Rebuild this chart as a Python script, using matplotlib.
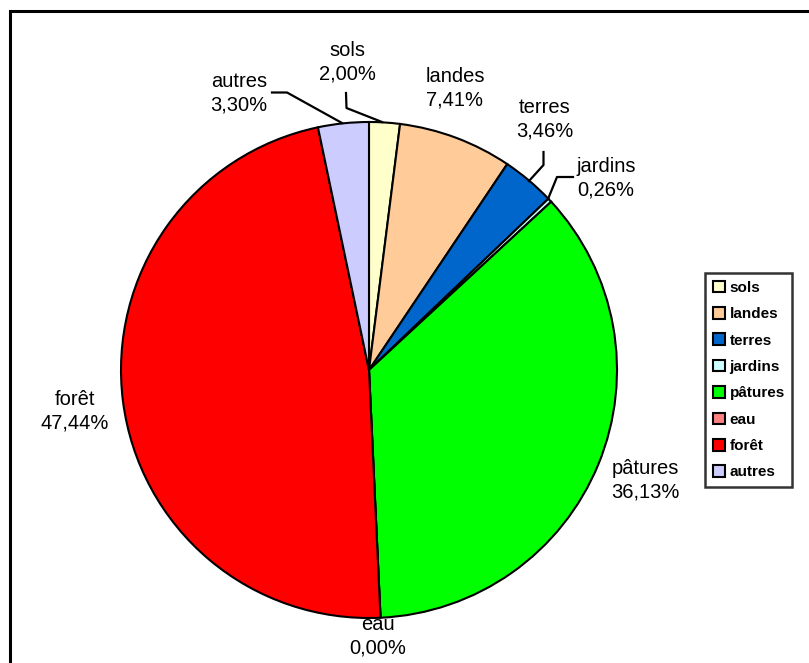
import numpy as np
import matplotlib.pyplot as plt
from matplotlib.patches import Patch, Rectangle

plt.rcParams['font.family'] = ['Liberation Sans', 'DejaVu Sans']

# donnees
categories = ["sols", "landes", "terres", "jardins", "pâtures", "eau", "forêt", "autres"]
values = [2.00, 7.41, 3.46, 0.26, 36.13, 0.00, 47.44, 3.30]
colors = ["#FFFFCC", "#FFCC99", "#0066CC", "#CCFFFF", "#00FF00", "#FF8080", "#FF0000", "#CCCCFF"]

W, H = 809, 663
# label centers in pixel coords (x, y from top)
label_pos = [(347, 62), (455, 88), (545, 119), (606, 178),
             (645, 480), (378, 636), (75, 411), (239, 93)]
# leader lines (pixel coords)
leaders = {
    "sols": [(346, 93), (346.5, 108), (382, 122)],
    "autres": [(272, 92.5), (287, 92.5), (342, 123)],
    "terres": [(543.5, 152), (543.5, 165), (529, 181)],
    "jardins": [(573, 177), (557, 177), (548, 199)],
}

fig = plt.figure(figsize=(W / 100, H / 100), dpi=100)
ax = fig.add_axes([0, 0, 1, 1])

def py(y):
    return H - y

# frame of the chart area (cut at right/bottom)
ax.add_patch(Rectangle((10, py(700)), 850, 700 - 11, fill=False, lw=2.2,
                       edgecolor='black', zorder=0))

wedges, _ = ax.pie(values, colors=colors, startangle=90, counterclock=False,
                   center=(369, py(370)), radius=248, frame=True,
                   wedgeprops=dict(edgecolor='black', linewidth=1.5))
for w in wedges:
    w.set_zorder(3)
ax.set_xlim(0, W)
ax.set_ylim(0, H)
ax.set_aspect('equal')
ax.axis('off')

for name, v, (x, y) in zip(categories, values, label_pos):
    txt = f"{name}\n{v:.2f}%".replace('.', ',')
    ax.text(x, py(y), txt, ha='center', va='center', fontsize=14.5,
            linespacing=1.3, color='black', zorder=2)

for name, pts in leaders.items():
    xs = [p[0] for p in pts]
    ys = [py(p[1]) for p in pts]
    ax.plot(xs, ys, color='black', lw=1.6, zorder=4)

handles = [Patch(facecolor=c, edgecolor='black', linewidth=1.5) for c in colors]
leg = fig.legend(handles, categories, loc='upper left',
                 bbox_to_anchor=(705 / W, 1 - 273 / H), borderaxespad=0,
                 prop={'weight': 'bold', 'size': 11}, frameon=True,
                 fancybox=False, shadow=False, handlelength=0.8,
                 handleheight=0.8, handletextpad=0.3, labelspacing=0.8,
                 borderpad=0.5)
leg.get_frame().set_edgecolor('black')
leg.get_frame().set_linewidth(1.8)

fig.savefig('out.png', dpi=100)
